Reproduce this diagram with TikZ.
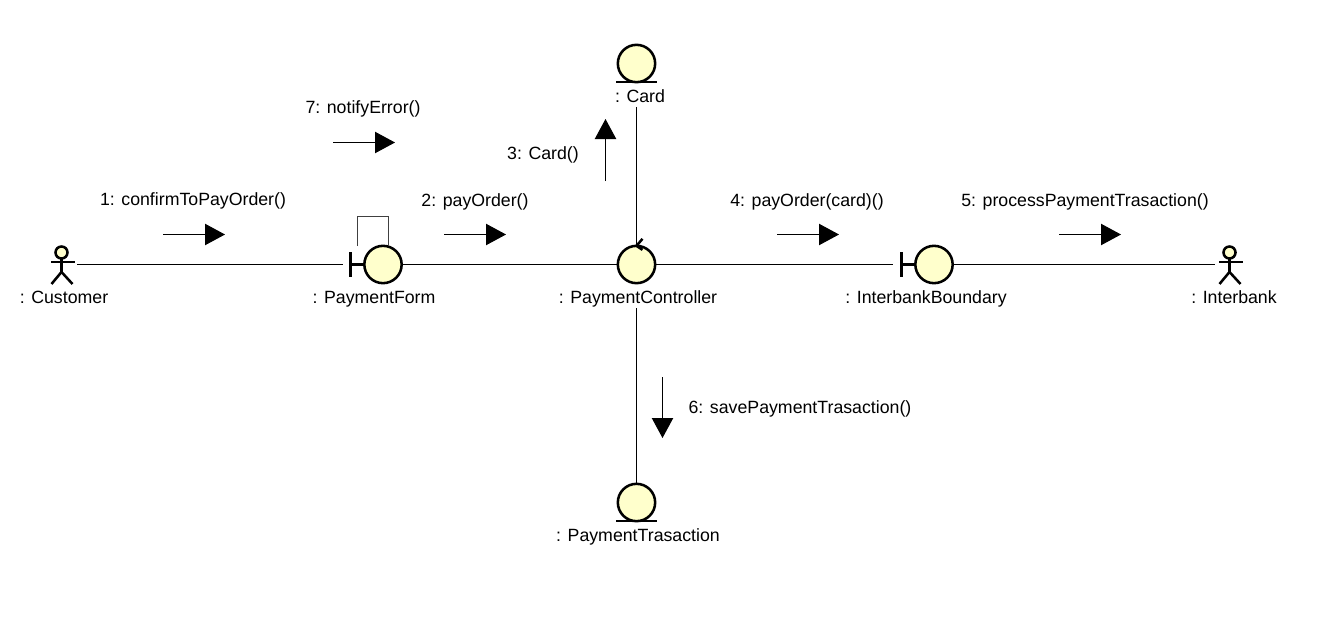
\documentclass[tikz,border=0pt]{standalone}
\usepackage{fontspec}
\setmainfont{Liberation Sans}
\usepackage{xcolor}
\usetikzlibrary{arrows.meta}
\usetikzlibrary{positioning}
\definecolor{objfill}{HTML}{FFFFCC}

\tikzset{
  objcircle/.style={circle, draw=black, line width=1.9pt, fill=objfill, inner sep=0pt, outer sep=0pt, minimum size=28pt},
  actorbox/.style={rectangle, inner sep=0pt, outer sep=0pt, minimum width=21pt, minimum height=30pt},
  objname/.style={inner xsep=0pt, inner ysep=1pt, outer sep=0pt, text height=9pt, text depth=2.5pt, font=\fontsize{13.3}{15}\selectfont},
  msgname/.style={objname},
  link/.style={draw=black, line width=.75pt},
  selflink/.style={draw=black!75, line width=.75pt},
  thickbar/.style={draw=black, line width=1.9pt},
  msgarrow/.style={draw=black, line width=.75pt, -{Triangle[length=15pt,width=16pt]}}
}

\begin{document}
\begin{tikzpicture}[x=.75pt,y=-.75pt]
\useasboundingbox (0,0) rectangle (1325,635);

% objects
\node[actorbox] (customer) at (63,264.5) {};
\node[objcircle] (form) at (383,264.5) {};
\node[objcircle] (controller) at (636.5,264.5) {};
\node[objcircle] (boundary) at (934,264.5) {};
\node[actorbox] (interbank) at (1231,264.5) {};
\node[objcircle] (card) at (636.5,63.5) {};
\node[objcircle] (trasaction) at (636.5,502.5) {};

% names
\node[objname] (customertxt) at (64,299) {: Customer};
\node[objname] (formtxt) at (374,299) {: PaymentForm};
\node[objname] (controllertxt) at (638,299) {: PaymentController};
\node[objname] (boundarytxt) at (926,299) {: InterbankBoundary};
\node[objname] (interbanktxt) at (1234,299) {: Interbank};
\node[objname] (cardtxt) at (640,98) {: Card};
\node[objname] (trasactiontxt) at (638,537) {: PaymentTrasaction};

% actors
\foreach \who in {customer,interbank}
{
   \draw[thickbar, fill=objfill] (\who.center) ++(-1.5,-12) circle (6);
   \draw[thickbar] (\who.center) ++(-1.5,-6) -- ++(0,13.5) -- ++(-10,12);
   \draw[thickbar] (\who.center) ++(-1.5,7.5) -- ++(11,12);
   \draw[thickbar] (\who.center) ++(-12,-2.5) -- ++(24,0);
}

% boundary ticks
\coordinate (formbar) at (350.5,264.5);
\coordinate (formend) at (343,264.5);
\coordinate (boundarybar) at (901.5,264.5);
\coordinate (boundaryend) at (893,264.5);
\coordinate (interbankend) at (1215,264.5);
\foreach \obj in {form,boundary}
{
   \draw[thickbar] (\obj.west) -- (\obj bar);
   \draw[thickbar] (\obj bar) ++(0,-12.5) -- ++(0,25);
}

% entity bars
\foreach \obj in {card,trasaction}
   \draw[thickbar] (\obj.south) ++(-20.5,0) -- ++(41,0);

% links
\draw[link] (customer.east) -- (formend);
\draw[link] (form.east) -- (controller.west);
\draw[link] (controller.east) -- (boundaryend);
\draw[link] (boundary.east) -- (interbankend);
\draw[link] (cardtxt.south -| card) -- (controller.north);
\draw[link] (controllertxt.south -| controller) -- (trasaction.north);

% controller mark
\draw[thickbar] ([shift={(6,-7)}]controller.north) -- (controller.north) -- ([shift={(6,4)}]controller.north);

% self link
\coordinate (selfa) at (357.5,246);
\coordinate (selfb) at (388.5,246);
\draw[selflink] (selfa) -- ++(0,-30) -| (selfb);

% messages
\foreach \msg/\xa/\ya/\xb/\yb in {m1/163/234.5/225/234.5, m2/444/234.5/506/234.5, m3/605.5/181/605.5/119,
  m4/777/234.5/839/234.5, m5/1059/234.5/1121/234.5, m6/662.5/377/662.5/438, m7/333/142.5/395/142.5}
{
   \coordinate (\msg a) at (\xa,\ya);
   \coordinate (\msg b) at (\xb,\yb);
   \draw[msgarrow] (\msg a) -- (\msg b);
}

\node[msgname] (m1txt) at (193,201) {1: confirmToPayOrder()};
\node[msgname] (m2txt) at (475,202) {2: payOrder()};
\node[msgname] (m3txt) at (543,155) {3: Card()};
\node[msgname] (m4txt) at (807,202) {4: payOrder(card)()};
\node[msgname] (m5txt) at (1085,202) {5: processPaymentTrasaction()};
\node[msgname] (m6txt) at (800,409) {6: savePaymentTrasaction()};
\node[msgname] (m7txt) at (363,109) {7: notifyError()};

\end{tikzpicture}
\end{document}
